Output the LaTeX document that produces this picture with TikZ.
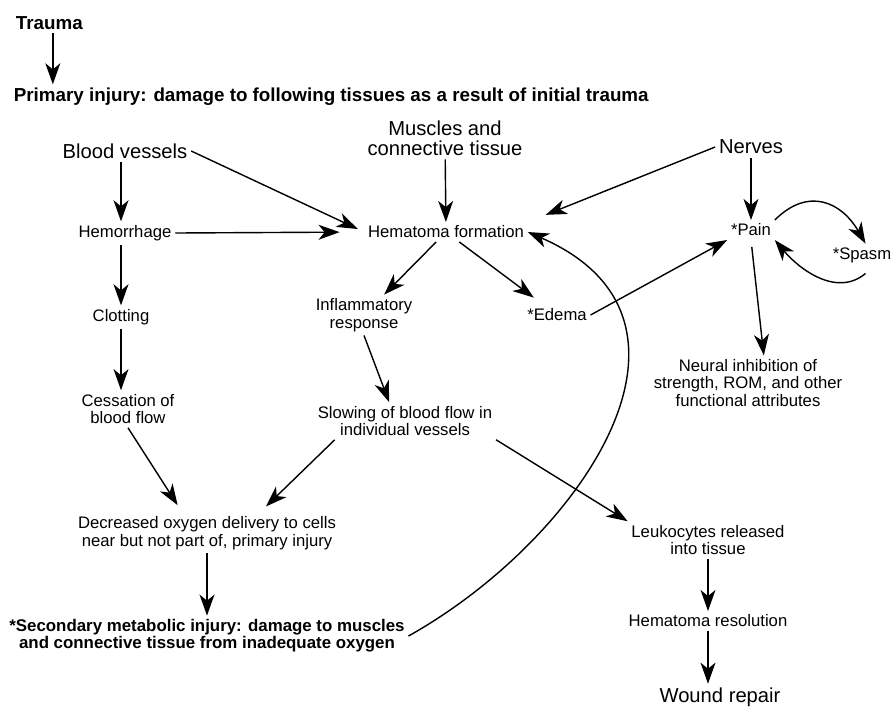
\documentclass[tikz,border=0pt]{standalone}
\usepackage{fontspec}
\setmainfont{Liberation Sans}
\usetikzlibrary{arrows.meta}

\begin{document}
\begin{tikzpicture}[x=0.02cm,y=-0.02cm,
    every node/.style={inner sep=2pt,align=center},
    sm/.style={font=\fontsize{9.5}{10}\selectfont},
    lg/.style={font=\fontsize{11.5}{11.5}\selectfont},
    bf/.style={font=\fontsize{10.7}{9.8}\selectfont\bfseries},
    arr/.style={line width=0.8pt,-{Stealth[length=12pt,width=8.5pt,inset=3.5pt]}}]
  \useasboundingbox (0,0) rectangle (896,708);
  \node[bf,anchor=west] (trauma) at (12,23) {Trauma};
  \node[bf,anchor=west] (prim) at (10,97) {Primary injury: damage to following tissues as a result of initial trauma};
  \node[lg] (bv) at (125,151) {Blood vessels};
  \node[lg] (mus) at (445,138) {Muscles and\\connective tissue};
  \node[lg] (nerves) at (751,147) {Nerves};
  \node[sm] (hemo) at (125,233) {Hemorrhage};
  \node[sm] (hem) at (446,232) {Hematoma formation};
  \node[sm] (pain) at (751,230) {*Pain};
  \node[sm] (spasm) at (862,255) {*Spasm};
  \node[sm] (infl) at (364,315) {Inflammatory\\response};
  \node[sm] (edema) at (557,315) {*Edema};
  \node[sm] (clot) at (121,317) {Clotting};
  \node[sm] (cess) at (128,409) {Cessation of\\blood flow};
  \node[sm] (slow) at (405,421) {Slowing of blood flow in\\individual vessels};
  \node[sm] (neural) at (748,383) {Neural inhibition of\\strength, ROM, and other\\functional attributes};
  \node[sm] (dec) at (207,533) {Decreased oxygen delivery to cells\\near but not part of, primary injury};
  \node[bf,font=\fontsize{9.6}{9.8}\selectfont\bfseries] (sec) at (207,636) {*Secondary metabolic injury: damage to muscles\\and connective tissue from inadequate oxygen};
  \node[sm] (leuk) at (708,540) {Leukocytes released\\into tissue};
  \node[sm] (hres) at (708,621) {Hematoma resolution};
  \node[lg] (wound) at (720,697) {Wound repair};

  \draw[arr] ([xshift=2pt]trauma.south) -- ([xshift=2pt]trauma.south |- prim.north);
  \draw[arr] (bv.south -| clot) -- (hemo.north -| clot);
  \draw[arr,shorten >=4pt] (bv.east) -- (hem.west);
  \draw[arr,shorten >=14pt] (hemo.east) -- (hem.west);
  \draw[arr] (mus) -- (hem);
  \draw[arr,shorten >=11pt] (nerves.west) -- (hem.north east);
  \draw[arr] (nerves) -- (pain);
  \draw[arr] (hemo.south -| clot) -- (clot);
  \draw[arr] (clot) -- (clot |- cess.north);
  \draw[arr] (hem) -- (infl);
  \draw[arr,shorten >=7pt] (hem) -- (edema);
  \draw[arr] (edema.east) -- (pain.south west);
  \draw[arr,shorten <=4pt] (pain.south) -- ([xshift=9pt]neural.north);
  \draw[arr] (pain.north east) to[out=45,in=120,looseness=1.3] ([xshift=2pt]spasm.north);
  \draw[arr] ([xshift=2pt,yshift=-4pt]spasm.south) to[out=-140,in=-50] (pain.south east);
  \draw[arr] (infl.south) -- ([xshift=-9pt]slow.north);
  \draw[arr,shorten >=5pt] (cess.south) -- ([xshift=-14pt]dec.north);
  \draw[arr,shorten >=5pt] ([xshift=-40pt]slow.south) -- ([xshift=30pt]dec.north);
  \draw[arr] (slow.south east) -- (leuk.north west);
  \draw[arr] (dec) -- (dec |- sec.north);
  % long return path
  \draw[arr] (sec.east) .. controls (580,540) and (730,320) .. (hem.east);
  \draw[arr] (leuk) -- (hres);
  \draw[arr] (hres.south) -- (hres.south |- wound.north);
\end{tikzpicture}
\end{document}
